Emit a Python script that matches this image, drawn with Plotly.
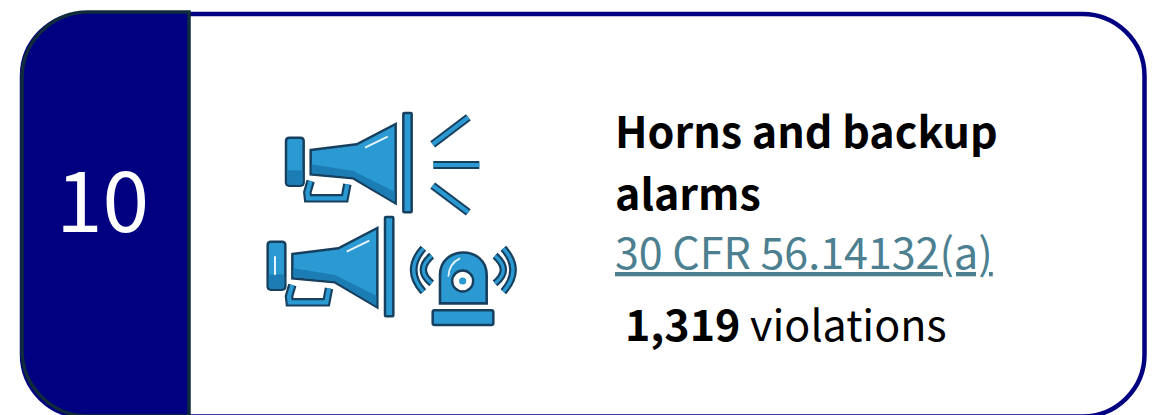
import plotly.graph_objects as go

# ---- content read from the card ----
rank_label = "10"
title_lines = ["Horns and backup", "alarms"]
citation = "30 CFR 56.14132(a)"
violations = 1319
violations_unit = "violations"

NAVY = "#000080"
EDGE = "#0f2b3c"
BLUE = "#2b9ad3"
SHADE = "#1c7db5"
INK = "#17405f"
LINK = "#4c7f90"
FONT = "Noto Sans CJK SC"
K = 0.45  # share of the radius left between a corner's end and its control point

shapes = []


def z(x, y):
    """Icon drawing coordinates (3x) to canvas pixels."""
    return f"{250 + x / 3:.2f},{95 + y / 3:.2f}"


def poly(pts, fill=None, line=INK, w=2.5, closed=True):
    d = "M" + " L".join(z(*p) for p in pts) + (" Z" if closed else "")
    shapes.append(dict(type="path", path=d, fillcolor=fill or "rgba(0,0,0,0)",
                       line=dict(color=line, width=w) if w else dict(width=0)))


def curve(p0, c, p1, color, w):
    d = f"M{z(*p0)} Q{z(*c)} {z(*p1)}"
    shapes.append(dict(type="path", path=d, fillcolor="rgba(0,0,0,0)",
                       line=dict(color=color, width=w)))


def rrect(x0, y0, x1, y1, r, fill=BLUE, line=INK, w=2.5):
    d = (f"M{z(x0 + r, y0)} L{z(x1 - r, y0)} Q{z(x1, y0)} {z(x1, y0 + r)} "
         f"L{z(x1, y1 - r)} Q{z(x1, y1)} {z(x1 - r, y1)} L{z(x0 + r, y1)} "
         f"Q{z(x0, y1)} {z(x0, y1 - r)} L{z(x0, y0 + r)} Q{z(x0, y0)} {z(x0 + r, y0)} Z")
    shapes.append(dict(type="path", path=d, fillcolor=fill,
                       line=dict(color=line, width=w) if w else dict(width=0)))


def stroke(pts, outer=8, inner=4):
    poly(pts, line=INK, w=outer, closed=False)
    poly(pts, line=BLUE, w=inner, closed=False)


def megaphone(dx, dy, grip_highlight=False):
    m = lambda p: (p[0] + dx, p[1] + dy)
    # handle
    stroke([m(p) for p in [(182, 258), (172, 292), (174, 310), (284, 310), (292, 268)]], 8.5, 4.2)
    # rear cap
    rrect(108 + dx, 128 + dy, 161 + dx, 272 + dy, 10)
    rrect(111 + dx, 226 + dy, 158 + dx, 269 + dy, 8, fill=SHADE, w=0)
    # horn
    poly([m(p) for p in [(182, 165), (260, 155), (320, 148), (437, 87), (437, 325), (310, 250), (182, 238)]], fill=BLUE)
    poly([m(p) for p in [(185, 208), (310, 228), (434, 290), (434, 321), (310, 247), (185, 235)]], fill=SHADE, w=0)
    poly([m(p) for p in [(345, 158), (413, 125)]], line="#e8f4fb", w=2.0, closed=False)
    # plate
    rrect(460 + dx, 54 + dy, 485 + dx, 352 + dy, 3)
    if grip_highlight:
        poly([m(p) for p in [(130, 172), (130, 228)]], line="#e8f4fb", w=2.0, closed=False)


def rounded(x0, y0, x1, y1, rl, rr):
    """Rounded outline in canvas pixels, cubic corners."""
    kl, kr = rl * K, rr * K
    return (f"M{x0 + rl},{y0} L{x1 - rr},{y0} C{x1 - kr},{y0} {x1},{y0 + kr} {x1},{y0 + rr} "
            f"L{x1},{y1 - rr} C{x1},{y1 - kr} {x1 - kr},{y1} {x1 - rr},{y1} "
            f"L{x0 + rl},{y1} C{x0 + kl},{y1} {x0},{y1 - kl} {x0},{y1 - rl} "
            f"L{x0},{y0 + rl} C{x0},{y0 + kl} {x0 + kl},{y0} {x0 + rl},{y0} Z")


# ---- card ----
shapes.append(dict(type="path", path=rounded(22, 14, 1144.5, 416.5, 62, 62),
                   fillcolor="white", line=dict(color=NAVY, width=4.5)))
shapes.append(dict(type="path", path=rounded(22, 12, 189, 416, 66, 0),
                   fillcolor=NAVY, line=dict(color=EDGE, width=3.5)))

# ---- icon ----
megaphone(0, 0)
megaphone(-55, 312, grip_highlight=True)
stroke([(548, 148), (655, 67)])
stroke([(550, 210), (688, 210)])
stroke([(548, 272), (655, 352)])

# siren
for p0, c, p1 in [((520, 460), (462, 525), (520, 590)), ((545, 482), (495, 525), (545, 565)),
                  ((760, 460), (818, 525), (760, 590)), ((735, 482), (785, 525), (735, 565))]:
    curve(p0, c, p1, INK, 7.5)
    curve(p0, c, p1, BLUE, 3.2)
d = (f"M{z(570, 625)} L{z(570, 540)} C{z(570, 450)} {z(710, 450)} {z(710, 540)} "
     f"L{z(710, 625)} Z")
shapes.append(dict(type="path", path=d, fillcolor=BLUE, line=dict(color=INK, width=2.6)))
curve((595, 545), (597, 505), (630, 490), "#e8f4fb", 1.8)
cx, cy = 250 + 638 / 3, 95 + 558 / 3
for r, fill, lw, col in [(10.5, "white", 2.4, INK), (3.6, BLUE, 0, BLUE)]:
    shapes.append(dict(type="circle", x0=cx - r, x1=cx + r, y0=cy - r, y1=cy + r,
                       fillcolor=fill, line=dict(color=col, width=lw)))
rrect(548, 646, 730, 690, 6)

# ---- text ----
annotations = [
    dict(x=102, y=195, text=rank_label, font=dict(size=84, color="white"), xanchor="center"),
    dict(x=612.5, y=129, text=f"<b>{title_lines[0]}</b>", font=dict(size=43, color="black"), xanchor="left"),
    dict(x=612.5, y=191, text=f"<b>{title_lines[1]}</b>", font=dict(size=43, color="black"), xanchor="left"),
    dict(x=613, y=250, text=f"<u>{citation}</u>", font=dict(size=43, color=LINK), xanchor="left"),
    dict(x=622.5, y=321.5, text=f"<b>{violations:,}</b> {violations_unit}", font=dict(size=43, color="black"),
         xanchor="left"),
]
for a in annotations:
    a.update(xref="x", yref="y", yanchor="middle", showarrow=False)

fig = go.Figure()
fig.update_layout(
    width=1160, height=415, margin=dict(l=0, r=0, t=0, b=0),
    paper_bgcolor="white", plot_bgcolor="white", showlegend=False,
    font=dict(family=FONT),
    xaxis=dict(range=[0, 1160], visible=False, fixedrange=True),
    yaxis=dict(range=[415, 0], visible=False, fixedrange=True),
    shapes=shapes, annotations=annotations,
)
fig.write_html("out.html", config={"displayModeBar": False},
               post_script="document.body.style.margin='0';"
                           "var s=document.createElement('style');"
                           "s.textContent='text,tspan{text-decoration-skip-ink:none}';"
                           "document.head.appendChild(s);")
